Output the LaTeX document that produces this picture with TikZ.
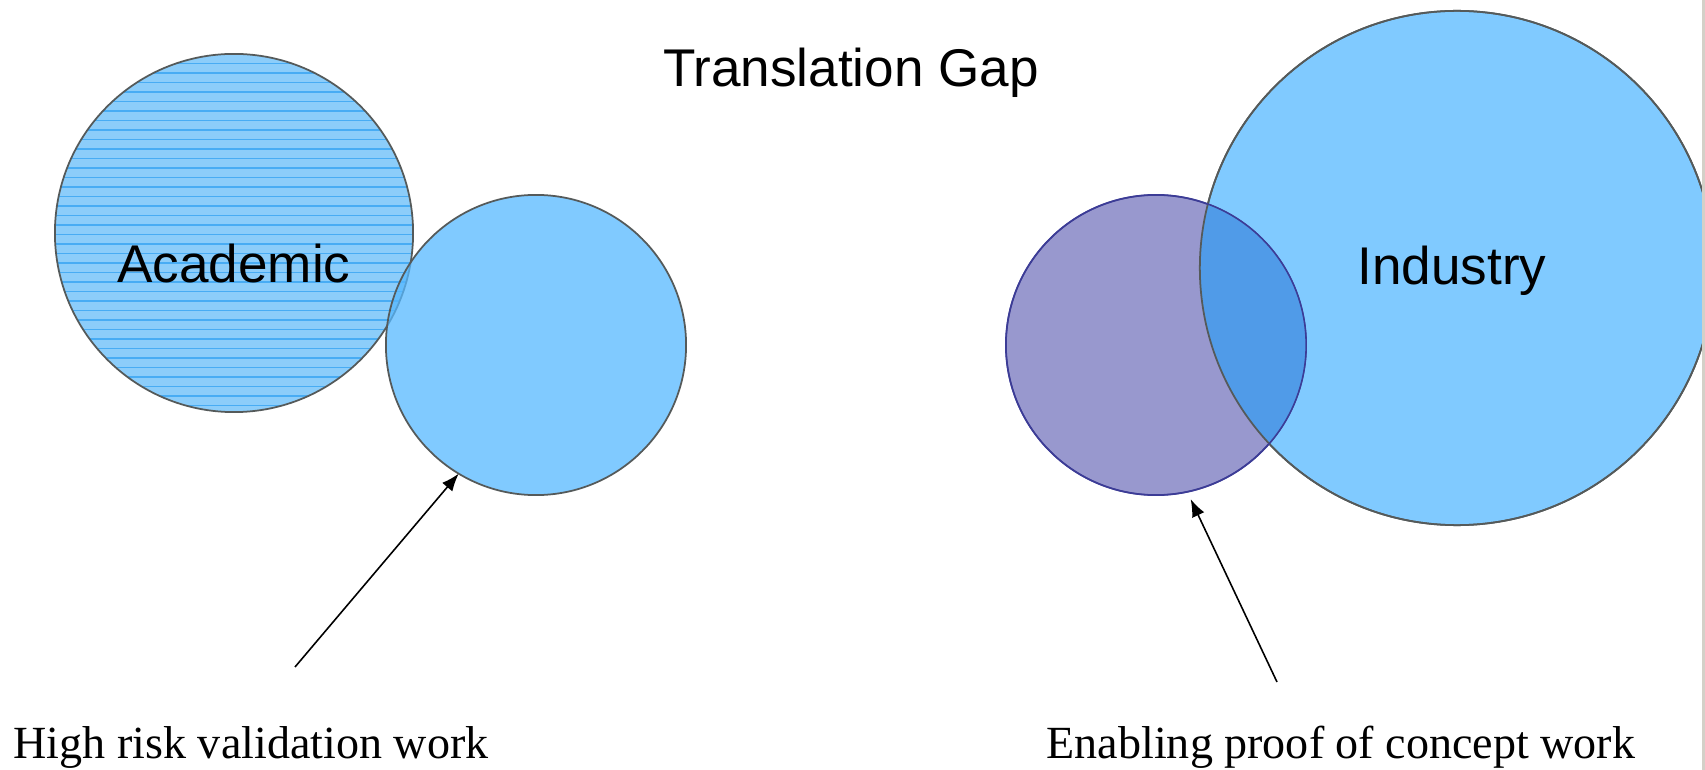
\documentclass[tikz,border=0pt]{standalone}
\usepackage{fontspec}
\setmainfont{Liberation Serif}
\setsansfont{Liberation Sans}
\usetikzlibrary{arrows.meta}

\definecolor{skyfill}{RGB}{128,202,255}
\definecolor{valfill}{RGB}{86,184,255}
\definecolor{stripebase}{RGB}{140,205,250}
\definecolor{stripeline}{RGB}{72,172,244}
\definecolor{pocfill}{RGB}{152,152,206}
\definecolor{overlapblue}{RGB}{80,155,232}
\definecolor{rimgrey}{RGB}{85,90,90}
\definecolor{rimnavy}{RGB}{60,60,150}
\definecolor{edgegrey}{RGB}{212,208,200}

\begin{document}
\begin{tikzpicture}[x=0.01cm,y=-0.01cm]
            \tikzset{ring/.style={circle, draw=rimgrey, line width=0.5pt, inner sep=0pt, outer sep=0pt}};
            \tikzset{stripe/.style={stripeline, line width=0.35pt}};
            \tikzset{line/.style={line width=0.45pt, -{Latex[length=5pt,width=3.8pt]}}};
            \tikzset{head/.style={font=\sffamily\fontsize{15.1}{18}\selectfont, anchor=base}};
            \tikzset{note/.style={font=\fontsize{13.1}{16}\selectfont, anchor=base west, inner sep=0pt}};

            \useasboundingbox (0,0) rectangle (1705,770);

            \node[head] (title) at (851,87) {Translation Gap};

            % left pair
            \node[ring, minimum size=3.58cm, fill=stripebase, path picture={
                \foreach \k in {1,...,38}
                    \draw[stripe] ([yshift=-\k*0.095cm]path picture bounding box.north west)
                        -- ([yshift=-\k*0.095cm]path picture bounding box.north east);
            }] (academic) at (234,233) {};
            \node[ring, minimum size=3cm, fill=valfill, fill opacity=0.75] (validation) at (536,345) {};
            \node[head] (acadtext) at (234,283) {Academic};

            % right pair
            \node[ring, minimum size=5.14cm, fill=skyfill] (industry) at (1457,268) {};
            \node[ring, minimum size=3cm, draw=rimnavy, fill=pocfill] (poc) at (1156,345) {};
            \begin{scope}
                \clip (poc.center) circle[radius=1.5cm];
                \fill[overlapblue] (industry.center) circle[radius=2.57cm];
            \end{scope}
            \draw[rimgrey, line width=0.5pt] (industry.center) circle[radius=2.57cm];
            \draw[rimnavy, line width=0.4pt] (poc.center) circle[radius=1.5cm];
            \node[head] (indtext) at (1452,285) {Industry};

            \fill[edgegrey] (1702,0) rectangle (1705,770);

            % pointers
            \coordinate (valtail) at (295,667);
            \coordinate (poctail) at (1277,682);
            \draw[line] (valtail) -- (validation.239);
            \draw[line, shorten >=2.3pt] (poctail) -- (poc.282);

            \node[note] (valtext) at (13,758) {High risk validation work};
            \node[note] (poctext) at (1046,758) {Enabling proof of concept work};
        \end{tikzpicture}
\end{document}
